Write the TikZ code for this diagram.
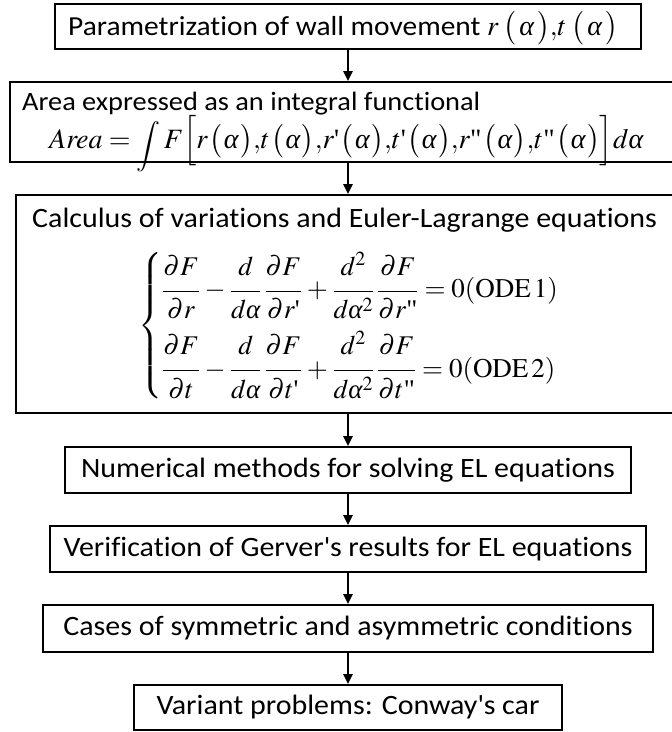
\documentclass[tikz,border=0pt]{standalone}
\usepackage{amsmath}
\usepackage{mathptmx}
\usepackage{graphicx}
\usepackage[no-math]{fontspec}
\setmainfont[FakeStretch=1.07,Ligatures={TeX,NoCommon}]{Carlito}
\newfontfamily\tnr{Liberation Serif}
\usetikzlibrary{arrows.meta}
\newcommand\pq{\mbox{\tnr\textquotesingle}}
\newcommand\pqq{\mbox{\tnr\textquotedbl}}
\newcommand\al{\mbox{\tnr\itshape α}}
\newcommand\pa[1]{\mkern3mu\bigl(\mkern2mu#1\mkern2mu\bigr)}
\newcommand\pb[1]{\mkern1mu\bigl(\mkern1mu#1\mkern1mu\bigr)}
\newcommand\ff[2]{\dfrac{#1\rule[-12pt]{0pt}{12pt}}{\rule{0pt}{24pt}#2}}
\newcommand\bigint{\mathop{\raisebox{-5pt}{\scalebox{0.95}[0.9]{$\displaystyle\int$}}}\nolimits}
\begin{document}
\begin{tikzpicture}[x=1pt,y=-1pt,
  box/.style={draw, line width=1.8pt, inner sep=0pt},
  txt/.style={inner sep=0pt, font=\fontsize{28}{32}\selectfont},
  mth/.style={inner sep=0pt, font=\fontsize{28}{32}\selectfont},
  eqs/.style={inner sep=0pt, font=\fontsize{27}{32}\selectfont},
  arr/.style={line width=2.2pt, -{Triangle[width=9pt,length=10pt]}}]
\useasboundingbox (0,0) rectangle (672,732);
% boxes
\node[box, minimum width=586pt, minimum height=45pt] (b1) at (348,26.5) {};
\node[box, minimum width=680pt, minimum height=80pt] (b2) at (350,122) {};
\node[box, minimum width=674pt, minimum height=218pt] (b3) at (353,304) {};
\node[box, minimum width=566pt, minimum height=46pt, txt] (b4) at (348,470) {Numerical methods for solving EL equations};
\node[box, minimum width=596pt, minimum height=46pt, txt] (b5) at (348,549) {Verification of Gerver\textquotesingle s results for EL equations};
\node[box, minimum width=610pt, minimum height=47pt, txt] (b6) at (348,628.5) {Cases of symmetric and asymmetric conditions};
\node[box, minimum width=428pt, minimum height=45pt, txt] (b7) at (348,707.5) {Variant problems: Conway\textquotesingle s car};
% texts
\node[txt, anchor=base west, font=\fontsize{27.5}{32}\selectfont] (t1) at (68,35) {Parametrization of wall movement {\fontsize{28}{32}\selectfont$r\pa{\al}{,}t\pa{\al}$}};
\node[txt, anchor=base west, font=\fontsize{26.5}{30}\selectfont] (t2) at (22,110) {Area expressed as an integral functional};
\node[mth, anchor=base west] (f2) at (49,148) {$\mathit{Area}=\bigint F\Bigl[r\pb{\al}{,}t\pb{\al}{,}r\pq\pb{\al}{,}t\pq\pb{\al}{,}r\pqq\pb{\al}{,}t\pqq\pb{\al}\Bigr]d\al$};
\node[txt, anchor=base west] (t3) at (32,227) {Calculus of variations and Euler-Lagrange equations};
\node[eqs, anchor=west] (f3) at (138,325.5) {\medmuskip=3mu\thickmuskip=4mu$\left\{\begin{array}{@{}l@{}}
\ff{\partial F}{\partial r}-\ff{d}{d\al}\,\ff{\partial F}{\partial r\pq}+\ff{d^2}{d\al^2}\,\ff{\partial F}{\partial r\pqq}=0(\mathrm{ODE}\,1)\\[24pt]
\ff{\partial F}{\partial t}-\ff{d}{d\al}\,\ff{\partial F}{\partial t\pq}+\ff{d^2}{d\al^2}\,\ff{\partial F}{\partial t\pqq}=0(\mathrm{ODE}\,2)
\end{array}\right.$};
% arrows
\draw[arr] (b1.south) -- (b1.south |- b2.north);
\draw[arr] (b1.south |- b2.south) -- (b1.south |- b3.north);
\draw[arr] (b1.south |- b3.south) -- (b4.north);
\draw[arr] (b4.south) -- (b5.north);
\draw[arr] (b5.south) -- (b6.north);
\draw[arr] (b6.south) -- (b7.north);
\end{tikzpicture}
\end{document}
